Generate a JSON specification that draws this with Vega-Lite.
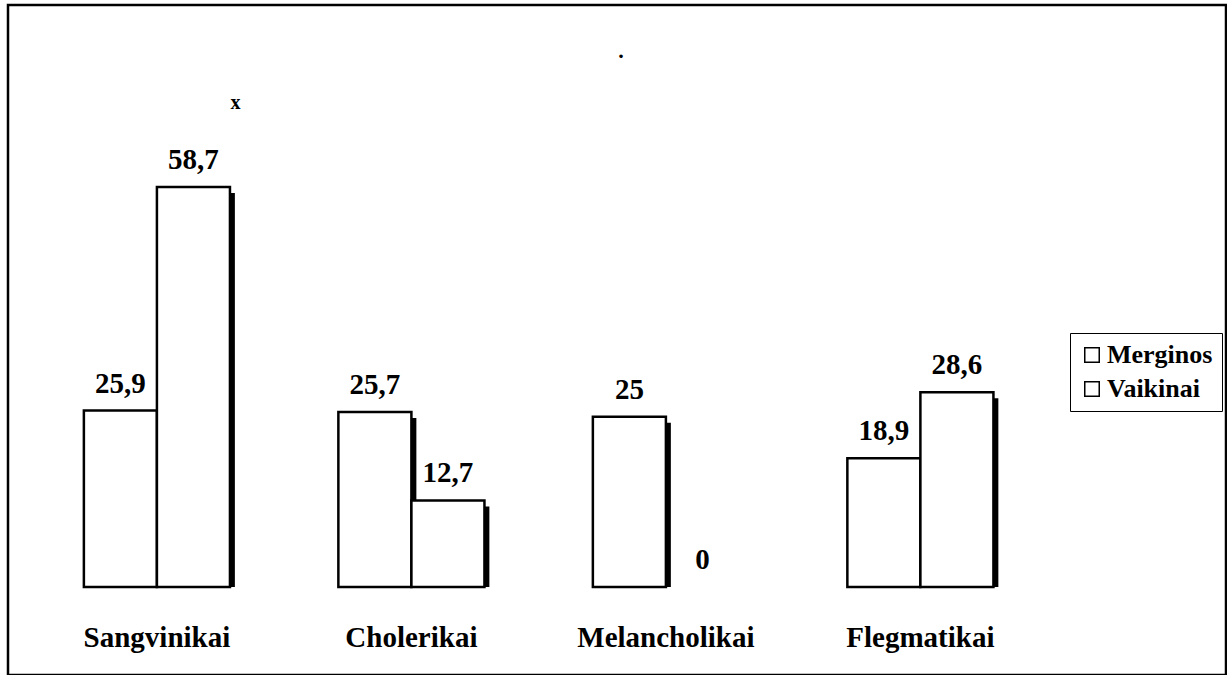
{
  "$schema": "https://vega.github.io/schema/vega-lite/v6.json",
  "width": 1218,
  "height": 670,
  "autosize": {"type": "none"},
  "padding": {"left": 8, "top": 5, "right": 1, "bottom": 0},
  "background": "white",
  "title": {"text": ".", "offset": -58, "fontSize": 22, "font": "Times New Roman, Liberation Serif, DejaVu Serif, serif", "fontWeight": "bold", "color": "black", "dx": 4},
  "config": {
    "view": {"stroke": "black", "strokeWidth": 2.5},
    "font": "Times New Roman, Liberation Serif, DejaVu Serif, serif"
  },
  "resolve": {"scale": {"xOffset": "independent"}},
  "data": {
    "values": [
      {"type": "Sangvinikai", "series": "Merginos", "value": 25.9, "label": "25,9"},
      {"type": "Sangvinikai", "series": "Vaikinai", "value": 58.7, "label": "58,7"},
      {"type": "Cholerikai", "series": "Merginos", "value": 25.7, "label": "25,7"},
      {"type": "Cholerikai", "series": "Vaikinai", "value": 12.7, "label": "12,7"},
      {"type": "Melancholikai", "series": "Merginos", "value": 25, "label": "25"},
      {"type": "Melancholikai", "series": "Vaikinai", "value": 0, "label": "0"},
      {"type": "Flegmatikai", "series": "Merginos", "value": 18.9, "label": "18,9"},
      {"type": "Flegmatikai", "series": "Vaikinai", "value": 28.6, "label": "28,6"}
    ]
  },
  "encoding": {
    "x": {
      "field": "type", "type": "nominal", "sort": ["Sangvinikai", "Cholerikai", "Melancholikai", "Flegmatikai"],
      "scale": {"paddingInner": 0.426, "paddingOuter": 0.606, "align": 0.246},
      "axis": {"title": null, "orient": "bottom", "offset": -29, "labelPadding": 0, "ticks": false, "tickSize": 0, "domain": false, "labelAngle": 0, "labelBaseline": "alphabetic", "labelFont": "Times New Roman, Liberation Serif, DejaVu Serif, serif", "labelFontSize": 29, "labelFontWeight": "bold", "labelColor": "black", "grid": false}
    },
    "y": {
      "field": "value", "type": "quantitative",
      "scale": {"domain": [-12.91, 85.41], "nice": false, "zero": false},
      "axis": null
    }
  },
  "layer": [
    {
      "transform": [{"filter": "datum.value > 0"}],
      "mark": {"type": "bar", "color": "black", "yOffset": 6, "y2Offset": 0},
      "encoding": {
        "y2": {"datum": 0},
        "xOffset": {"field": "series", "type": "nominal", "sort": ["Merginos", "Vaikinai"], "scale": {"type": "band", "range": [5, 151]}}
      }
    },
    {
      "transform": [{"filter": "datum.value > 0"}],
      "mark": {"type": "bar", "stroke": "black", "strokeWidth": 2.5},
      "encoding": {
        "xOffset": {"field": "series", "type": "nominal", "sort": ["Merginos", "Vaikinai"], "scale": {"type": "band", "paddingInner": 0, "paddingOuter": 0}},
        "fill": {
          "field": "series", "type": "nominal",
          "scale": {"range": ["white", "white"]},
          "legend": {
            "title": null, "orient": "none", "legendX": 1062, "legendY": 328,
            "symbolType": "square", "symbolSize": 210, "symbolStrokeColor": "black", "symbolStrokeWidth": 1.5,
            "labelFont": "Times New Roman, Liberation Serif, DejaVu Serif, serif", "labelFontSize": 26, "labelFontWeight": "bold", "labelColor": "black",
            "strokeColor": "black", "padding": 9, "rowPadding": 8, "labelOffset": 2, "fillColor": "white"
          }
        }
      }
    },
    {
      "mark": {"type": "text", "dy": -18, "baseline": "alphabetic", "font": "Times New Roman, Liberation Serif, DejaVu Serif, serif", "fontSize": 29, "fontWeight": "bold", "color": "black"},
      "encoding": {
        "xOffset": {"field": "series", "type": "nominal", "sort": ["Merginos", "Vaikinai"], "scale": {"type": "band", "paddingInner": 0, "paddingOuter": 0}},
        "text": {"field": "label"}
      }
    },
    {
      "data": {"values": [{"type": "Sangvinikai", "series": "Vaikinai", "value": 71, "label": "x"}]},
      "mark": {"type": "text", "dx": 42, "baseline": "middle", "font": "Times New Roman, Liberation Serif, DejaVu Serif, serif", "fontSize": 20, "fontWeight": "bold", "color": "black"},
      "encoding": {
        "xOffset": {"field": "series", "type": "nominal", "scale": {"type": "band", "domain": ["Merginos", "Vaikinai"], "paddingInner": 0, "paddingOuter": 0}},
        "text": {"field": "label"}
      }
    }
  ]
}
